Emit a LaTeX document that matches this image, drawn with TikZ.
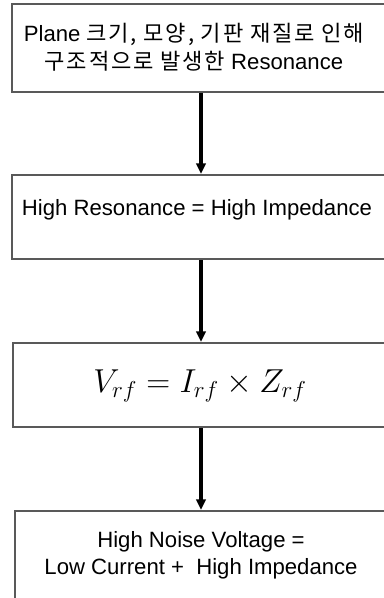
\documentclass[tikz,border=0pt]{standalone}
\usepackage{fontspec}
\setmainfont{Liberation Sans}
\newfontfamily\kr[LetterSpace=8]{Noto Sans CJK KR}
\usetikzlibrary{arrows.meta, positioning}

\begin{document}
\begin{tikzpicture}[x=0.75pt, y=-0.75pt,
    frame/.style={draw=black!65, line width=1.5pt, minimum width=291pt, inner sep=0pt},
    boxtext/.style={align=center, inner sep=0pt, font=\fontsize{16.6}{21}\selectfont},
    flow/.style={-{Triangle[length=8pt,width=7pt]}, line width=2.6pt}]

    \useasboundingbox (0,0) rectangle (383,598);

    % boxes
    \node[frame, minimum height=66pt] (plane) at (206,48) {};
    \node[frame, minimum height=63pt] (reso) at (206,217) {};
    \node[frame, minimum height=63pt] (vrf) at (207,385) {};
    \node[frame, minimum height=75pt] (noise) at (209,561) {};

    % texts
    \node[boxtext] (planetxt) at (194,47) {Plane {\kr 크기, 모양, 기판 재질로 인해}\\{\kr 구조적으로 발생한} Resonance};
    \node[boxtext] (resotxt) at (197,210) {High Resonance = High Impedance};
    \node[boxtext, font=\fontsize{25}{28}\selectfont] (vrftxt) at (200,386) {$V_{rf} = I_{rf} \times Z_{rf}$};
    \node[boxtext, font=\fontsize{16.6}{20}\selectfont] (noisetxt) at (201,555) {High Noise Voltage =\\Low Current + \ High Impedance};

    % arrows
    \coordinate (axis) at (201,0);
    \draw[flow] (plane.south -| axis) -- (reso.north -| axis);
    \draw[flow] (reso.south -| axis) -- (vrf.north -| axis);
    \draw[flow] (vrf.south -| axis) -- (noise.north -| axis);

\end{tikzpicture}
\end{document}
